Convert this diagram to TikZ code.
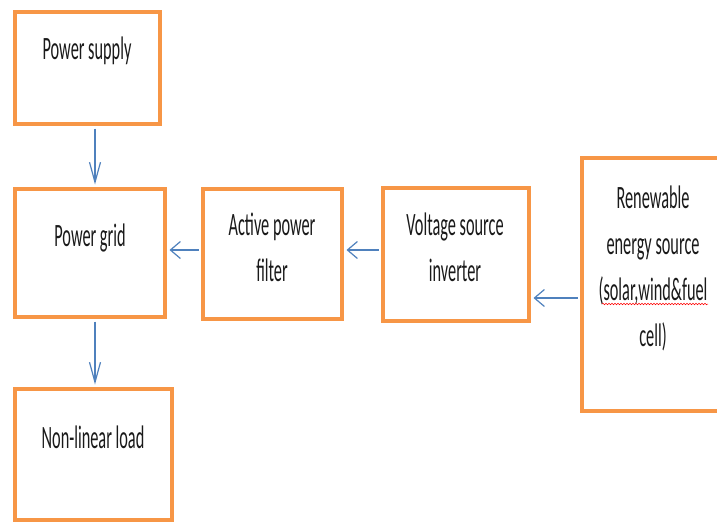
\documentclass[tikz,border=0pt]{standalone}
\usepackage{fontspec}
\newfontfamily\boxfont[FakeStretch=0.5]{Carlito}
\usetikzlibrary{positioning,arrows.meta,decorations.pathmorphing}
\definecolor{boxorange}{HTML}{F79646}
\definecolor{flowblue}{HTML}{4F81BD}
\definecolor{inkgray}{HTML}{1A1A1A}

\begin{document}
\begin{tikzpicture}[x=1pt, y=-1pt,
    block/.style={draw=boxorange, line width=4.5pt, fill=white, inner sep=0pt},
    boxtext/.style={font=\boxfont\fontsize{32.6}{46}\selectfont, text=inkgray,
                    align=center, inner sep=0pt},
    hflow/.style={draw=flowblue, line width=1.2pt, shorten <=2.25pt, shorten >=2.25pt,
                  -{Straight Barb[length=10pt, width=17pt]}},
    vflow/.style={draw=flowblue, line width=1.2pt, shorten <=2.25pt, shorten >=2.25pt,
                  -{Straight Barb[length=20pt, width=11pt]}},
]
\clip (0,0) rectangle (717,522);
\fill[white] (0,0) rectangle (717,522);

% boxes
\node[block, minimum width=145pt, minimum height=112pt] (supply) at (87.5,68) {};
\node[block, minimum width=150pt, minimum height=128pt] (grid) at (90,253) {};
\node[block, minimum width=157pt, minimum height=131pt] (load) at (93.5,454.5) {};
\node[block, minimum width=139pt, minimum height=130pt] (apf) at (272.5,254) {};
\node[block, minimum width=146pt, minimum height=133pt] (vsi) at (456,254.5) {};
\node[block, minimum width=160pt, minimum height=253pt] (res) at (662,284.5) {};

% texts
\node[boxtext] (supplytext) at (87,51) {Power supply};
\node[boxtext] (gridtext) at (90,238) {Power grid};
\node[boxtext] (loadtext) at (93,437) {Non-linear load};
\node[boxtext] (apftext) at (272,247) {Active power\\filter};
\node[boxtext] (vsitext) at (455,247) {Voltage source\\inverter};
\node[boxtext] (restext) at (653,268)
    {Renewable\\energy source\\(solar,wind\&fuel\\cell)};
\draw[red, line width=0.5pt, decorate,
      decoration={snake, amplitude=0.8pt, segment length=3pt}] (602,304) -- (708,304);

% flows
\draw[vflow] ([xshift=7.5pt]supply.south) -- ([xshift=5pt]grid.north);
\draw[vflow] ([xshift=5pt]grid.south) -- ([xshift=1.5pt]load.north);
\draw[hflow] ([yshift=4pt]apf.west) -- ([yshift=3pt]grid.east);
\draw[hflow] ([yshift=4.5pt]vsi.west) -- ([yshift=4pt]apf.east);
\draw[hflow] ([yshift=-13.5pt]res.west) -- ([yshift=-43.5pt]vsi.east);
\end{tikzpicture}
\end{document}
